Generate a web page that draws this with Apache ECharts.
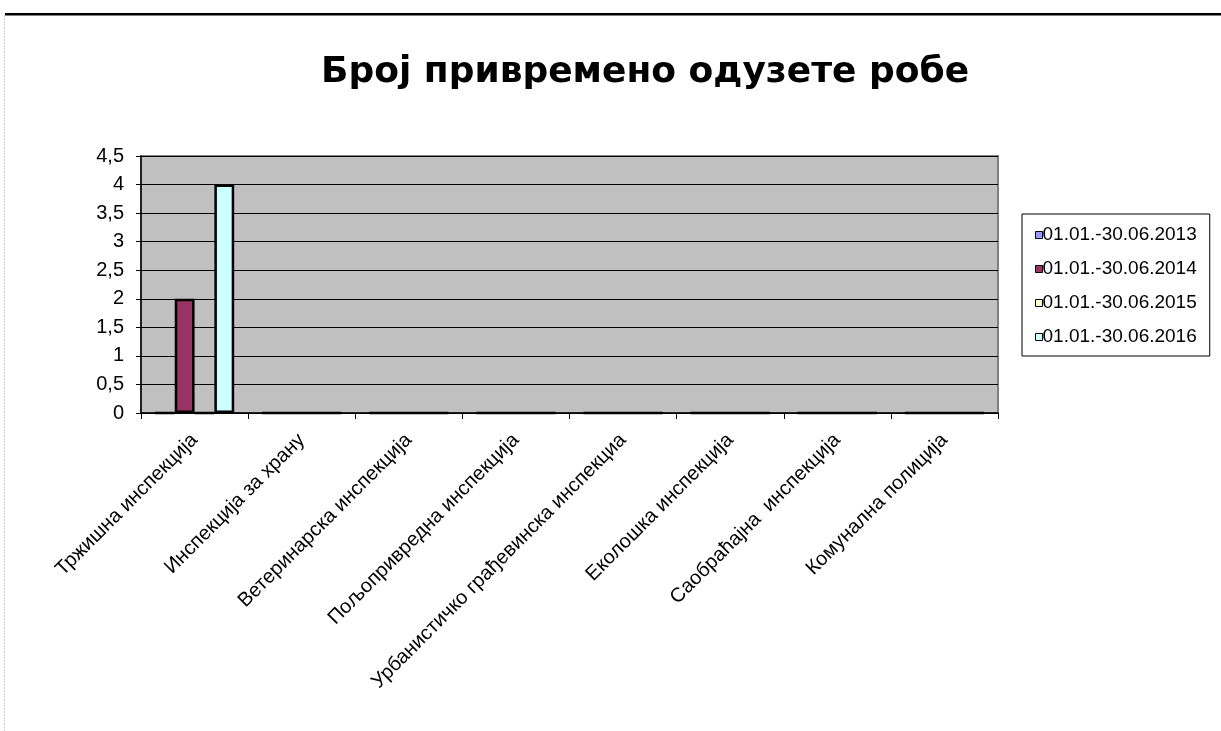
<!DOCTYPE html>
<html>
<head>
<meta charset="utf-8">
<script src="https://cdn.jsdelivr.net/npm/echarts@6/dist/echarts.min.js"></script>
<style>html,body{margin:0;padding:0;background:#fff;}#c{width:1221px;height:731px;}</style>
</head>
<body>
<div id="c"></div>
<script>
const titleText = 'Број привремено одузете робе';
const categories = ['Тржишна инспекција','Инспекција за храну','Ветеринарска инспекција','Пољопривредна инспекција','Урбанистичко грађевинска инспекциа','Еколошка инспекција','Саобраћајна  инспекција','Комунална полиција'];
const seriesNames = ['01.01.-30.06.2013','01.01.-30.06.2014','01.01.-30.06.2015','01.01.-30.06.2016'];
const values2013 = [0,0,0,0,0,0,0,0];
const values2014 = [2,0,0,0,0,0,0,0];
const values2015 = [0,0,0,0,0,0,0,0];
const values2016 = [4,0,0,0,0,0,0,0];
const seriesColors = ['#9999FF','#993366','#FFFFCC','#CCFFFF'];
const yTickLabels = ['0','0,5','1','1,5','2','2,5','3','3,5','4','4,5'];

const allValues = [values2013, values2014, values2015, values2016];
const chart = echarts.init(document.getElementById('c'), null, {renderer:'canvas'});
const font = 'Liberation Sans, Arial, sans-serif';
chart.setOption({
  animation:false,
  backgroundColor:'#fff',
  title:{text:titleText,left:640,top:50,textAlign:'center',textStyle:{fontFamily:'DejaVu Sans',fontWeight:'bold',fontSize:36,color:'#000'}},
  graphic:[
    {type:'rect',shape:{x:5,y:13,width:1216,height:2.5},style:{fill:'#000'},silent:true},
    {type:'line',shape:{x1:4.5,y1:15,x2:4.5,y2:731},style:{stroke:'#d0d0d0',lineWidth:1,lineDash:[2,1]},silent:true}
  ],
  legend:{
    orient:'vertical',left:1022,top:214,
    data:seriesNames,
    backgroundColor:'#fff',borderColor:'#000',borderWidth:1,
    padding:[11,13,9,13],itemGap:14,itemWidth:7,itemHeight:7,
    icon:'rect',
    itemStyle:{borderColor:'#000',borderWidth:1},
    textStyle:{fontFamily:font,fontSize:19,lineHeight:20,color:'#000',padding:[0,0,0,-5]}
  },
  grid:{left:141,right:223,top:156,bottom:318,show:true,backgroundColor:'#C0C0C0',borderColor:'#808080',borderWidth:2},
  xAxis:{
    type:'category',data:categories,
    axisLine:{lineStyle:{color:'#000',width:1.5}},
    axisTick:{show:true,length:6,lineStyle:{color:'#000'}},
    axisLabel:{rotate:45,margin:24,fontFamily:font,fontSize:20,color:'#000',interval:0}
  },
  yAxis:{
    type:'value',min:0,max:4.5,interval:0.5,
    axisLine:{show:true,lineStyle:{color:'#000',width:1.5}},
    axisTick:{show:true,length:5,lineStyle:{color:'#000'}},
    axisLabel:{fontFamily:font,fontSize:20,color:'#000',margin:17,formatter:(v)=>yTickLabels[Math.round(v*2)]},
    splitLine:{show:true,lineStyle:{color:'#000',width:1.2}}
  },
  series: seriesNames.map((n,i)=>({
    name:n,type:'bar',data:allValues[i],barGap:'0%',barCategoryGap:'26%',
    itemStyle:{color:seriesColors[i],borderColor:'#000',borderWidth:2.5}
  }))
});
</script>
</body>
</html>
